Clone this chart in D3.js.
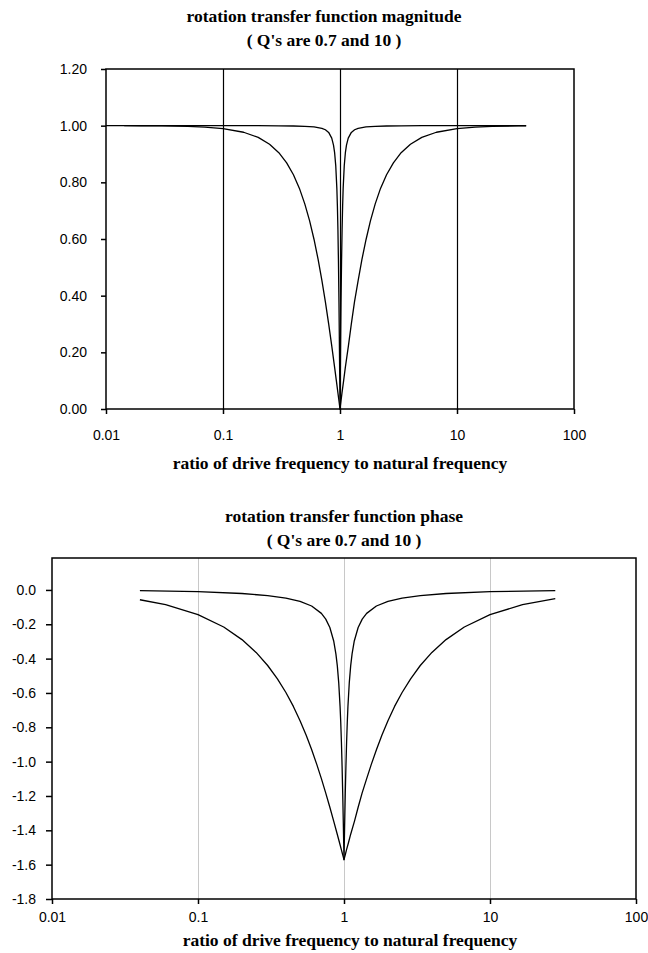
<!DOCTYPE html>
<html>
<head>
<meta charset="utf-8">
<script src="https://cdn.jsdelivr.net/npm/d3@7"></script>
<style>
  html, body { margin: 0; padding: 0; background: #fff; }
  svg { display: block; }
  .ttl { font-family: "Liberation Serif", "Times New Roman", serif; font-weight: bold; font-size: 17.5px; fill: #000; }
  .tick text { font-family: "Liberation Sans", Arial, sans-serif; font-size: 14px; fill: #000; }
</style>
</head>
<body>
<script>
// ---------- data ----------
const xTickValues = [0.01, 0.1, 1, 10, 100];
const xTickLabels = ["0.01", "0.1", "1", "10", "100"];
const gridX = [0.1, 1, 10];

const magTickValues = [0, 0.2, 0.4, 0.6, 0.8, 1.0, 1.2];
const magTickLabels = ["0.00", "0.20", "0.40", "0.60", "0.80", "1.00", "1.20"];

const phaseTickValues = [0, -0.2, -0.4, -0.6, -0.8, -1.0, -1.2, -1.4, -1.6, -1.8];
const phaseTickLabels = ["0.0", "-0.2", "-0.4", "-0.6", "-0.8", "-1.0", "-1.2", "-1.4", "-1.6", "-1.8"];

// magnitude, Q = 0.7
const magX_Q07 = [0.0143,0.02,0.03,0.05,0.07,0.1,0.15,0.2,0.25,0.3,0.35,0.4,0.45,0.5,0.55,0.6,0.65,0.7,0.75,0.8,0.85,0.9,0.93,0.96,0.98,1.0,
  1.02,1.04,1.075,1.11,1.18,1.25,1.33,1.43,1.54,1.67,1.82,2.0,2.22,2.5,2.86,3.33,4.0,5.0,6.67,10,14.3,20,33.3,39];
const mag_Q07 = [0.9998,0.9996,0.9991,0.9975,0.9950,0.9898,0.9768,0.9585,0.9345,0.9047,0.8689,0.8268,0.7786,0.7241,0.6639,0.5983,0.5281,0.4543,0.3780,0.3005,0.2228,0.1462,0.1012,0.0571,0.0283,0.0,
  0.0283,0.0571,0.1012,0.1462,0.2228,0.3005,0.3780,0.4543,0.5281,0.5983,0.6639,0.7241,0.7786,0.8268,0.8689,0.9047,0.9345,0.9585,0.9768,0.9898,0.9950,0.9975,0.9991,0.9993];

// magnitude, Q = 10
const magX_Q10 = [0.01,0.02,0.05,0.1,0.2,0.3,0.4,0.5,0.6,0.7,0.75,0.8,0.85,0.88,0.9,0.92,0.94,0.95,0.96,0.97,0.98,0.99,0.995,1.0,
  1.005,1.01,1.02,1.031,1.042,1.053,1.064,1.087,1.111,1.136,1.176,1.25,1.333,1.429,1.667,2.0,2.5,3.333,5.0,10,20,39];
const mag_Q10 = [1.0,1.0,1.0,0.9999,0.9998,0.9995,0.9989,0.9978,0.9956,0.9907,0.9856,0.9762,0.9562,0.9316,0.9037,0.8579,0.7780,0.7162,0.6325,0.5203,0.3747,0.1971,0.0998,0.0,
  0.0998,0.1971,0.3747,0.5203,0.6325,0.7162,0.7780,0.8579,0.9037,0.9316,0.9562,0.9762,0.9856,0.9907,0.9956,0.9978,0.9989,0.9995,0.9998,0.9999,1.0,1.0];

// phase, Q = 0.7
const phaseX_Q07 = [0.04,0.06,0.1,0.15,0.2,0.25,0.3,0.35,0.4,0.45,0.5,0.55,0.6,0.65,0.7,0.75,0.8,0.85,0.9,0.93,0.96,0.98,1.0,
  1.02,1.04,1.075,1.11,1.18,1.25,1.33,1.43,1.54,1.67,1.82,2.0,2.22,2.5,2.86,3.33,4.0,5.0,6.67,10,16.7,28];
const phase_Q07 = [-0.0572,-0.0858,-0.1433,-0.2158,-0.2892,-0.3640,-0.4401,-0.5177,-0.5973,-0.6784,-0.7614,-0.8448,-0.9294,-1.0144,-1.0991,-1.1831,-1.2656,-1.3461,-1.4241,-1.4695,-1.5137,-1.5425,-1.5708,
  -1.5425,-1.5137,-1.4695,-1.4241,-1.3461,-1.2656,-1.1831,-1.0991,-1.0144,-0.9294,-0.8448,-0.7614,-0.6784,-0.5973,-0.5177,-0.4401,-0.3640,-0.2892,-0.2158,-0.1433,-0.0858,-0.0510];

// phase, Q = 10
const phaseX_Q10 = [0.04,0.1,0.2,0.3,0.4,0.5,0.6,0.7,0.75,0.8,0.85,0.88,0.9,0.92,0.94,0.95,0.96,0.97,0.98,0.99,0.995,1.0,
  1.005,1.01,1.02,1.031,1.042,1.053,1.064,1.087,1.111,1.136,1.176,1.25,1.333,1.429,1.667,2.0,2.5,3.333,5.0,10,28];
const phase_Q10 = [-0.0040,-0.0101,-0.0208,-0.0330,-0.0476,-0.0666,-0.0935,-0.1364,-0.1698,-0.2187,-0.2973,-0.3720,-0.4424,-0.5396,-0.6794,-0.7724,-0.8859,-1.0236,-1.1868,-1.3724,-1.4709,-1.5708,
  -1.4709,-1.3724,-1.1868,-1.0236,-0.8859,-0.7724,-0.6794,-0.5396,-0.4424,-0.3720,-0.2973,-0.2187,-0.1698,-0.1364,-0.0935,-0.0666,-0.0476,-0.0330,-0.0208,-0.0101,-0.0036];

// ---------- drawing ----------
const W = 648, H = 953;
const svg = d3.select("body").append("svg").attr("width", W).attr("height", H);
svg.append("rect").attr("width", W).attr("height", H).attr("fill", "#fff");

function panel(cfg) {
  const x = d3.scaleLog().domain([0.01, 100]).range([cfg.left, cfg.right]);
  const y = d3.scaleLinear().domain(cfg.yDomain).range([cfg.bottom, cfg.top]);
  const g = svg.append("g");

  // gridlines
  g.selectAll("line.grid").data(gridX).join("line")
    .attr("x1", d => Math.round(x(d)) + 0.5).attr("x2", d => Math.round(x(d)) + 0.5)
    .attr("y1", cfg.top).attr("y2", cfg.bottom)
    .attr("stroke", cfg.gridColor).attr("stroke-width", cfg.gridWidth);

  // frame
  g.append("rect").attr("x", cfg.left).attr("y", cfg.top)
    .attr("width", cfg.right - cfg.left).attr("height", cfg.bottom - cfg.top)
    .attr("fill", "none").attr("stroke", "#000").attr("stroke-width", 1.5);

  // axes
  const xAxis = d3.axisBottom(x).tickValues(xTickValues)
    .tickFormat((d, i) => xTickLabels[i]).tickSize(5).tickPadding(cfg.xPad);
  g.append("g").attr("transform", `translate(0,${cfg.bottom})`).call(xAxis)
    .call(a => a.select(".domain").remove())
    .call(a => a.selectAll(".tick line").attr("stroke", "#000").attr("stroke-width", 1.5));

  const yAxis = d3.axisLeft(y).tickValues(cfg.yTicks)
    .tickFormat((d, i) => cfg.yLabels[i]).tickSize(cfg.yTickSize).tickPadding(cfg.yPad);
  g.append("g").attr("transform", `translate(${cfg.left},0)`).call(yAxis)
    .call(a => a.select(".domain").remove())
    .call(a => a.selectAll(".tick line").attr("stroke", "#000").attr("stroke-width", 1.5));

  // lines
  const line = d3.line().x(d => x(d[0])).y(d => y(d[1]));
  cfg.series.forEach(s => {
    g.append("path").datum(s.xs.map((v, i) => [v, s.ys[i]]))
      .attr("d", line).attr("fill", "none").attr("stroke", "#000")
      .attr("stroke-width", 1.3).attr("stroke-linejoin", "round");
  });

  // titles
  g.append("text").attr("class", "ttl").attr("x", cfg.titleX).attr("y", cfg.titleY)
    .attr("text-anchor", "middle").text(cfg.title);
  g.append("text").attr("class", "ttl").attr("x", cfg.titleX).attr("y", cfg.titleY + 24)
    .attr("text-anchor", "middle").text("( Q's are 0.7 and 10 )");
  g.append("text").attr("class", "ttl").attr("x", cfg.axisTitleX).attr("y", cfg.axisTitleY)
    .attr("text-anchor", "middle").text("ratio of drive frequency to natural frequency");
}

panel({
  left: 106, right: 574, top: 69, bottom: 409,
  yDomain: [0, 1.2], yTicks: magTickValues, yLabels: magTickLabels,
  yTickSize: 5, yPad: 14, xPad: 16,
  gridColor: "#000", gridWidth: 1.2,
  series: [{ xs: magX_Q07, ys: mag_Q07 }, { xs: magX_Q10, ys: mag_Q10 }],
  title: "rotation transfer function magnitude", titleX: 324, titleY: 22,
  axisTitleX: 340, axisTitleY: 469
});

panel({
  left: 52, right: 636, top: 558, bottom: 899,
  yDomain: [-1.8, 0.186], yTicks: phaseTickValues, yLabels: phaseTickLabels,
  yTickSize: 6, yPad: 10, xPad: 8,
  gridColor: "#c8c8c8", gridWidth: 1,
  series: [{ xs: phaseX_Q07, ys: phase_Q07 }, { xs: phaseX_Q10, ys: phase_Q10 }],
  title: "rotation transfer function phase", titleX: 344, titleY: 522,
  axisTitleX: 350, axisTitleY: 946
});
</script>
</body>
</html>
